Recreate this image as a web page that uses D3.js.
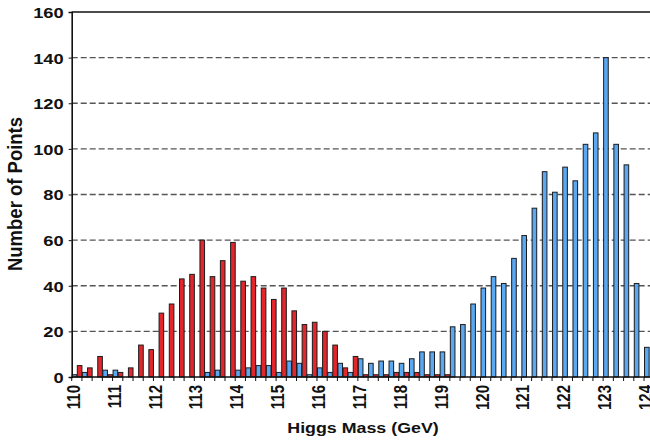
<!DOCTYPE html>
<html>
<head>
<meta charset="utf-8">
<script src="https://cdn.jsdelivr.net/npm/d3@7"></script>
<style>
  html, body { margin: 0; padding: 0; background: #fff; }
  svg { display: block; }
  text { font-family: "Liberation Sans", Arial, Helvetica, sans-serif; font-weight: bold; fill: #111; }
</style>
</head>
<body>
<svg id="chart" width="650" height="443"></svg>
<script>
// Mass bins (GeV), one every 0.25 GeV
const massBins = [
  110, 110.25, 110.5, 110.75, 111, 111.25, 111.5, 111.75,
  112, 112.25, 112.5, 112.75, 113, 113.25, 113.5, 113.75,
  114, 114.25, 114.5, 114.75, 115, 115.25, 115.5, 115.75,
  116, 116.25, 116.5, 116.75, 117, 117.25, 117.5, 117.75,
  118, 118.25, 118.5, 118.75, 119, 119.25, 119.5, 119.75,
  120, 120.25, 120.5, 120.75, 121, 121.25, 121.5, 121.75,
  122, 122.25, 122.5, 122.75, 123, 123.25, 123.5, 123.75,
  124
];

// Counts per bin, blue series
const blueCounts = [
  1, 2, 0, 3, 3, 0, 0, 0,
  0, 0, 0, 0, 0, 2, 3, 0,
  3, 4, 5, 5, 2, 7, 6, 1,
  4, 2, 6, 2, 8, 6, 7, 7,
  6, 8, 11, 11, 11, 22, 23, 32,
  39, 44, 41, 52, 62, 74, 90, 81,
  92, 86, 102, 107, 140, 102, 93, 41,
  13
];

// Counts per bin, red series
const redCounts = [
  5, 4, 9, 1, 2, 4, 14, 12,
  28, 32, 43, 45, 60, 44, 51, 59,
  42, 44, 39, 34, 39, 29, 23, 24,
  20, 14, 4, 9, 1, 1, 1, 2,
  2, 2, 1, 1, 1, 0, 0, 0,
  0, 0, 0, 0, 0, 0, 0, 0,
  0, 0, 0, 0, 0, 0, 0, 0,
  0
];

const yTicks = [0, 20, 40, 60, 80, 100, 120, 140, 160];
const xTickLabels = [110, 111, 112, 113, 114, 115, 116, 117, 118, 119, 120, 121, 122, 123, 124];

const seriesKeys = ["blue", "red"];
const seriesColors = { blue: "#5aa8f2", red: "#e2262b" };

const svg = d3.select("#chart");
const plotLeft = 71.7, plotTop = 12, plotBottom = 377, plotRight = 650;
const bandStep = 10.22;

const x = d3.scaleBand()
  .domain(massBins.map(String))
  .range([plotLeft, plotLeft + bandStep * massBins.length])
  .paddingInner(0).paddingOuter(0);

const xSub = d3.scaleBand()
  .domain(seriesKeys)
  .range([0, x.bandwidth()])
  .padding(0);

const y = d3.scaleLinear().domain([0, 160]).range([plotBottom, plotTop]);

// Horizontal dashed grid
svg.append("g")
  .selectAll("line")
  .data(yTicks.filter(d => d > 0 && d < 160))
  .join("line")
  .attr("x1", plotLeft).attr("x2", plotRight)
  .attr("y1", d => y(d)).attr("y2", d => y(d))
  .attr("stroke", "#555")
  .attr("stroke-width", 1.4)
  .attr("stroke-dasharray", "6,3");

// Bars
const rows = massBins.map((m, i) => ({ mass: String(m), blue: blueCounts[i], red: redCounts[i] }));
const groups = svg.append("g")
  .selectAll("g")
  .data(rows)
  .join("g")
  .attr("transform", d => `translate(${x(d.mass)},0)`);

groups.selectAll("rect")
  .data(d => seriesKeys.map(k => ({ key: k, value: d[k] })).filter(v => v.value > 0))
  .join("rect")
  .attr("x", d => xSub(d.key) + 0.5)
  .attr("width", xSub.bandwidth() - 0.5)
  .attr("y", d => y(d.value))
  .attr("height", d => y(0) - y(d.value))
  .attr("fill", d => seriesColors[d.key])
  .attr("stroke", "#1c1c1c")
  .attr("stroke-width", 1);

// Top frame line
svg.append("line")
  .attr("x1", plotLeft).attr("x2", plotRight)
  .attr("y1", y(160)).attr("y2", y(160))
  .attr("stroke", "#111").attr("stroke-width", 1.6);

// Y axis
const yAxis = svg.append("g")
  .attr("transform", `translate(${plotLeft},0)`)
  .call(d3.axisLeft(y).tickValues(yTicks).tickSize(3).tickPadding(5));
yAxis.select(".domain").attr("stroke", "#111").attr("stroke-width", 1.6);
yAxis.selectAll(".tick line").attr("stroke", "#111");
yAxis.selectAll(".tick text")
  .attr("font-size", 15)
  .attr("font-family", "Liberation Sans, Arial, sans-serif")
  .attr("font-weight", "bold")
  .attr("fill", "#111")
  .attr("dy", "0.36em")
  .each(function () {
    const t = d3.select(this);
    const xx = +t.attr("x");
    t.attr("transform", `translate(${xx},0) scale(1.22,1) translate(${-xx},0)`);
  });

// X axis: a tick at every bin edge, labels on whole GeV values
const xAxis = svg.append("g")
  .attr("transform", `translate(0,${plotBottom})`);
xAxis.append("line")
  .attr("x1", plotLeft).attr("x2", plotRight)
  .attr("stroke", "#111").attr("stroke-width", 1.6);
xAxis.selectAll("line.tick")
  .data(massBins)
  .join("line")
  .attr("class", "tick")
  .attr("x1", d => x(String(d))).attr("x2", d => x(String(d)))
  .attr("y1", 0).attr("y2", 4)
  .attr("stroke", "#111");
xAxis.selectAll("text")
  .data(xTickLabels)
  .join("text")
  .attr("transform", d => `translate(${x(String(d)) + 1.5},8) scale(1.22,1) rotate(-90)`)
  .attr("text-anchor", "end")
  .attr("dy", "0.36em")
  .attr("font-size", 15)
  .text(d => d);

// Axis titles
svg.append("text")
  .attr("transform", "translate(363,433) scale(1.15,1)")
  .attr("text-anchor", "middle")
  .attr("font-size", 15.5)
  .text("Higgs Mass (GeV)");

svg.append("text")
  .attr("transform", "translate(22,194) scale(1.1,1) rotate(-90)")
  .attr("text-anchor", "middle")
  .attr("font-size", 18.5)
  .text("Number of Points");
</script>
</body>
</html>
